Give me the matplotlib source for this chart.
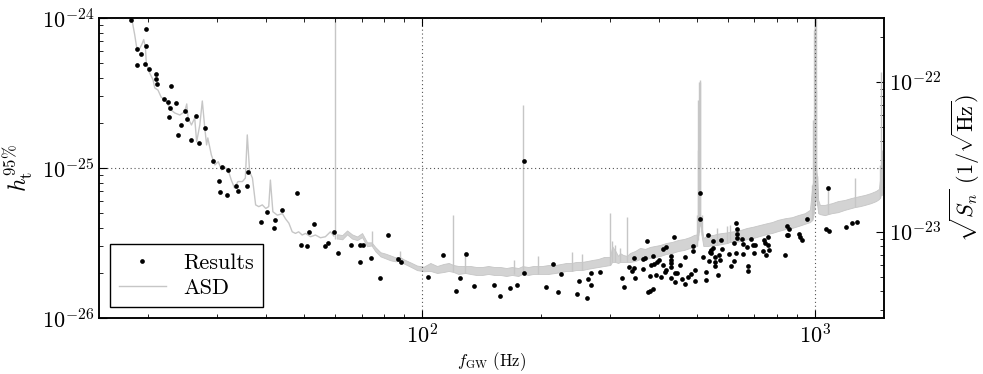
import numpy as np
import matplotlib
matplotlib.use("Agg")
import matplotlib.pyplot as plt
from matplotlib.lines import Line2D

plt.rcParams.update({
    "font.family": "serif",
    "font.serif": ["cmr10", "DejaVu Serif"],
    "mathtext.fontset": "cm",
    "axes.formatter.use_mathtext": True,
    "xtick.direction": "in",
    "ytick.direction": "in",
    "axes.linewidth": 1.1,
})

# ── Search results: frequency (Hz) and 95% upper limit (x 1e-26) ────────────
results_f = [18.1, 19.8, 18.8, 19.8, 19.2, 18.7, 19.6, 20.1, 20.9, 20.9,
             21.1, 22.9, 22.0, 22.5, 23.6, 22.8, 24.8, 22.6, 25.1, 26.5,
             24.3, 27.9, 23.8, 25.7, 26.9, 29.2, 30.9, 32.0, 30.3, 30.5,
             31.7, 33.6, 34.0, 36.0, 35.8, 48.0, 40.1, 38.9, 43.8, 42.1,
             41.8, 52.9, 51.3, 49.0, 50.7, 59.4, 57.6, 56.4, 61.1, 65.6,
             69.3, 70.4, 69.4, 73.9, 81.8, 78.2, 86.7, 88.4, 103.6, 113,
             122, 125, 129, 135, 152, 158, 167, 174, 181, 181,
             207, 215, 221, 226, 247, 251, 262, 264, 269, 269,
             283, 322, 327, 336, 346, 342, 348, 347, 365, 364,
             369, 373, 375, 379, 387, 379, 383, 387, 388, 394,
             395, 401, 405, 411, 411, 415, 418, 417, 430, 430,
             431, 431, 431, 438, 440, 441, 445, 452, 459, 466,
             466, 476, 484, 489, 490, 495, 496, 509, 511, 518,
             528, 529, 534, 538, 541, 544, 545, 549, 550, 556,
             557, 557, 566, 571, 573, 576, 579, 603, 613, 621,
             623, 631, 631, 632, 634, 632, 652, 656, 656, 671,
             674, 676, 689, 696, 705, 700, 741, 747, 737, 751,
             761, 761, 765, 841, 851, 849, 855, 861, 909, 914,
             927, 953, 1081, 1065, 1084, 1200, 1241, 1282]
results_h = [97.0, 84.9, 62.4, 64.8, 57.5, 48.6, 49.4, 45.9, 42.1, 39.0,
             36.5, 35.1, 28.8, 27.5, 27.0, 25.2, 24.1, 21.8, 21.3, 22.3,
             19.4, 18.4, 16.7, 15.4, 14.7, 11.2, 10.2, 9.74, 8.15, 6.89,
             6.58, 7.55, 7.03, 9.40, 7.55, 6.78, 5.11, 4.39, 5.25, 4.50,
             4.00, 4.23, 3.76, 3.08, 3.02, 3.74, 3.16, 3.02, 2.71, 3.07,
             3.07, 3.07, 2.35, 2.51, 3.59, 1.85, 2.46, 2.35, 1.88, 2.64,
             1.51, 1.85, 2.68, 1.63, 1.67, 1.41, 1.58, 1.67, 11.2, 2.00,
             1.62, 2.30, 1.48, 1.97, 1.45, 1.76, 1.35, 1.82, 1.66, 2.00,
             2.02, 1.86, 1.62, 2.20, 2.52, 2.06, 1.85, 2.16, 2.12, 2.46,
             2.50, 3.25, 1.49, 1.51, 1.57, 1.90, 2.25, 2.58, 2.28, 1.94,
             2.37, 2.43, 1.89, 2.87, 2.26, 2.04, 2.96, 2.09, 2.60, 2.44,
             2.33, 2.20, 1.85, 3.48, 2.00, 1.75, 2.00, 2.26, 1.82, 1.69,
             2.54, 1.89, 1.97, 2.81, 3.03, 2.10, 1.77, 6.78, 4.57, 2.54,
             2.03, 1.80, 3.58, 2.40, 2.77, 2.84, 2.70, 3.26, 2.94, 2.55,
             2.37, 2.23, 1.94, 2.62, 2.44, 3.31, 2.90, 2.66, 2.21, 2.41,
             3.18, 2.70, 4.32, 3.61, 3.90, 3.43, 3.36, 3.10, 2.68, 2.96,
             2.21, 2.07, 3.36, 3.08, 3.08, 2.70, 3.30, 3.18, 2.78, 2.63,
             3.45, 3.05, 2.85, 2.63, 4.12, 3.59, 3.59, 3.94, 3.65, 3.48,
             3.31, 4.59, 7.32, 3.94, 3.82, 4.03, 4.32, 4.39]

# ── Noise ASD (x 1e-24 /sqrt(Hz)) ────────────────────────────────────────────
# low-frequency part: a single wiggly line
low_freq = [17.8, 18.1, 18.5, 18.7, 19.0, 19.3, 19.5, 19.7, 19.8, 20.2,
            20.6, 20.8, 21.2, 21.6, 22.1, 22.5, 22.9, 23.4, 24.1, 24.8,
            25.1, 25.3, 25.8, 26.3, 26.6, 27.1, 27.5, 27.9, 28.2, 28.4,
            29.0, 29.6, 30.2, 30.8, 31.3, 32.0, 32.6, 33.2, 33.9, 34.8,
            35.4, 35.8, 36.3, 36.9, 37.6, 38.3, 39.1, 39.9, 40.6, 41.0,
            41.6, 42.7, 44.0, 44.8, 45.7, 46.6, 47.5, 48.4, 49.4, 50.4,
            51.9, 53.4, 55.0, 56.6, 58.3, 59.5]
low_asd = [351, 280, 205, 171, 165, 178, 191, 168, 133, 114,
           103, 91, 88, 79, 75.6, 70, 64.8, 61.9, 60, 63.1,
           71.1, 57.3, 51.5, 57.3, 39.8, 51.5, 74.4, 49.2, 37.9, 42.2,
           32.5, 27.9, 29.3, 25.8, 27.1, 25.8, 22.1, 19.6, 21.6, 21.6,
           22.8, 44.2, 25.1, 22.8, 15.1, 14.7, 15.1, 14.3, 14.7, 22.1,
           13.6, 12.9, 13.2, 12.2, 11.4, 9.99, 9.75, 9.99, 9.51, 9.75,
           9.26, 9.51, 9.12, 9.26, 9.99, 9.37]

# higher frequencies: noisy band (lower / upper envelope)
asd_freq = [60.5, 61.0, 62.5, 64.3, 66.2, 68.2, 70.2, 72.3, 74.2, 75.9,
            78.2, 80.5, 82.9, 85.4, 87.5, 89.6, 93.2, 96.9, 100.8, 104.8,
            109.0, 113.3, 116.7, 120.0, 123.5, 128.6, 132.5, 137.2, 142.1, 147.2,
            152.5, 157.9, 163.6, 169.1, 175.5, 180.0, 186.1, 191.6, 196.5, 202.0,
            209.3, 218.0, 225.8, 232.5, 240.4, 246.6, 255.8, 263.0, 270.8, 280.5,
            290.5, 300.9, 304.4, 309.8, 315.3, 319.0, 324.7, 331.8, 338.3, 348.3,
            358.6, 369.3, 380.3, 391.6, 403.3, 417.7, 432.6, 448.1, 464.2, 480.7,
            492.1, 500.0, 502.3, 504.7, 508.2, 510.6, 514.2, 519.7, 534.2, 550.1,
            564.2, 580.0, 598.2, 607.8, 625.8, 648.2, 671.4, 695.4, 724.4, 754.8,
            777.2, 805.0, 838.7, 873.9, 905.1, 943.0, 971.2, 985.5, 991.3, 995.9,
            1000, 1004.7, 1008.8, 1013.5, 1019.5, 1029.7, 1060.3, 1081.0, 1104.5, 1144.1,
            1192, 1240, 1264, 1302, 1341, 1388, 1430, 1456, 1464, 1472,
            1481, 1489, 1503]
asd_lo = [9.0, 9.0, 8.9, 9.6, 9.0, 8.8, 9.2, 8.0, 8.1, 7.4,
          6.85, 6.65, 6.45, 6.35, 6.4, 6.15, 5.85, 5.55, 5.45, 5.48,
          5.31, 5.39, 5.48, 5.39, 5.23, 5.31, 5.23, 5.15, 5.15, 5.23,
          5.15, 5.15, 5.07, 5.15, 5.07, 5.23, 5.15, 5.23, 5.23, 5.23,
          5.23, 5.31, 5.39, 5.48, 5.48, 5.56, 5.56, 5.65, 5.73, 5.82,
          5.91, 6.00, 6.29, 6.29, 6.19, 6.29, 6.29, 6.29, 6.29, 6.38,
          6.58, 6.58, 6.68, 6.79, 6.89, 7.11, 7.22, 7.44, 7.56, 7.80,
          7.92, 8.04, 8.81, 9.51, 11.1, 11.6, 9.51, 8.04, 8.04, 8.16,
          8.16, 8.29, 8.41, 8.55, 8.55, 8.68, 8.95, 9.08, 9.37, 9.66,
          9.81, 10.1, 10.4, 10.6, 10.9, 11.3, 11.6, 12.0, 12.9, 14.0,
          16.3, 16.3, 19.0, 15.1, 13.3, 13.1, 12.9, 13.1, 13.3, 13.5,
          14.0, 14.4, 14.6, 14.8, 15.1, 15.5, 16.0, 16.5, 16.8, 17.6,
          17.6, 18.1, 18.1]
asd_hi = [9.6, 9.6, 9.5, 10.2, 9.6, 9.3, 9.8, 8.5, 8.5, 7.9,
          7.3, 7.15, 6.95, 6.75, 6.8, 6.55, 6.25, 5.95, 5.85, 6.19,
          5.91, 6.10, 6.19, 6.0, 5.91, 5.9, 5.91, 5.82, 5.82, 5.91,
          5.82, 5.82, 5.73, 5.82, 5.73, 5.9, 5.82, 5.91, 5.9, 5.91,
          6.00, 6.00, 6.10, 6.19, 6.2, 6.29, 6.3, 6.38, 6.48, 6.58,
          6.79, 6.8, 8.0, 7.5, 6.89, 7.2, 7.0, 6.9, 7.22, 7.44,
          7.80, 7.68, 7.92, 8.04, 8.16, 8.41, 8.55, 8.81, 8.95, 9.22,
          9.51, 9.6, 12.0, 12.2, 12.2, 12.0, 11.0, 9.08, 9.51, 9.51,
          9.7, 9.81, 9.9, 10.0, 10.1, 10.3, 10.6, 10.8, 11.1, 11.4,
          11.6, 12.0, 12.3, 12.5, 12.9, 13.3, 14.0, 20.5, 22, 25,
          30, 30, 25, 23.5, 16.3, 15.1, 15.1, 15.3, 15.5, 16.0,
          16.3, 16.8, 17.0, 17.3, 17.6, 18.1, 18.7, 19.3, 22, 25,
          25, 24, 22.1]

# narrow spectral lines (freq, bottom, top)
spike_freq = [60.0, 74.2, 87.5, 120.0, 128.6, 171.1, 180.0, 196.5, 240.4, 255.8,
              300.9, 304.4, 309.8, 319.0, 331.8, 500.0, 502.3, 504.7, 506.5, 508.2,
              510.6, 514.2, 564.2, 598.2, 607.8, 985.5, 991.3, 995.9, 998.0, 1000.0,
              1002.3, 1004.7, 1008.8, 1013.5, 1081.0, 1264.0, 1464.0, 1472.0, 1481.0, 1489.0]
spike_top = [400, 10.1, 7.44, 12.9, 7.33, 6.5, 70.0, 6.89, 7.33, 7.11,
             13.3, 8.68, 8.16, 7.80, 12.5, 12.9, 35.1, 75.6, 100, 102.7,
             99.7, 12.9, 10.6, 10.9, 11.1, 20.5, 55.6, 221, 400, 400,
             400, 400, 88.1, 23.5, 19.9, 22.8, 27.9, 116.1, 35.1, 29.2]
spike_base = [9.0, 8.0, 6.3, 5.4, 5.3, 5.2, 5.2, 5.2, 5.5, 5.6,
              6.0, 6.3, 6.3, 6.3, 6.3, 8.0, 8.8, 9.5, 10, 11,
              11.6, 9.5, 8.2, 8.4, 8.5, 12, 12.9, 14, 15, 16,
              16, 16, 19, 15, 13.1, 14.6, 16.8, 17.6, 17.6, 18.1]

ASD_GREY = "#c6c6c6"
BAND_GREY = "#d3d3d3"

fig = plt.figure(figsize=(9.83, 3.74), dpi=100)
ax = fig.add_axes([0.1007, 0.1497, 0.7986, 0.8022])
ax.set_xscale("log")
ax.set_yscale("log")
ax2 = ax.twinx()

# ── ASD on the right-hand axis ──
ax2.plot(low_freq, np.array(low_asd) * 1e-24, color=ASD_GREY, lw=1.0)
ax2.fill_between(asd_freq, np.array(asd_lo) * 1e-24, np.array(asd_hi) * 1e-24,
                 facecolor=BAND_GREY, edgecolor=ASD_GREY, lw=0.6)
ax2.vlines(spike_freq, np.array(spike_base) * 1e-24, np.array(spike_top) * 1e-24,
           color=ASD_GREY, lw=1.0)
ax2.set_yscale("log")
ax2.set_ylim(2.66e-24, 2.66e-22)
ax2.set_ylabel(r"$\sqrt{S_n}\ (1/\sqrt{\mathrm{Hz}})$", fontsize=16, labelpad=5)

# ── results on the left-hand axis ──
dots, = ax.plot(results_f, np.array(results_h) * 1e-26, "o", color="black",
                ms=3.4, mew=0)
ax.set_xlim(15, 1500)
ax.set_ylim(1e-26, 1e-24)
ax.set_zorder(ax2.get_zorder() + 1)
ax.patch.set_visible(False)
ax.grid(True, which="major", ls=(0, (1, 2.5)), color="#555555", lw=0.8)

ax.set_xlabel(r"$f_{\rm GW}$ (Hz)", fontsize=12, labelpad=2)
ax.set_ylabel(r"$h_{\rm t}^{95\%}$", fontsize=17, labelpad=4)

ax.tick_params(which="both", top=True, right=False, labelsize=16)
ax.tick_params(which="major", length=6)
ax.tick_params(which="minor", length=3)
ax2.tick_params(which="both", labelsize=16)
ax2.tick_params(which="major", length=6)
ax2.tick_params(which="minor", length=3)

asd_handle = Line2D([0], [0], color=ASD_GREY, lw=1.0)
leg = ax.legend([dots, asd_handle], ["Results", "ASD"], loc="lower left",
                bbox_to_anchor=(0.014, 0.037), borderaxespad=0, fontsize=16,
                numpoints=1, handlelength=2.1, handletextpad=0.8,
                labelspacing=0.25, fancybox=False, framealpha=1)
leg.get_frame().set_edgecolor("black")
leg.get_frame().set_linewidth(1.0)

fig.savefig("out.png", dpi=100)
